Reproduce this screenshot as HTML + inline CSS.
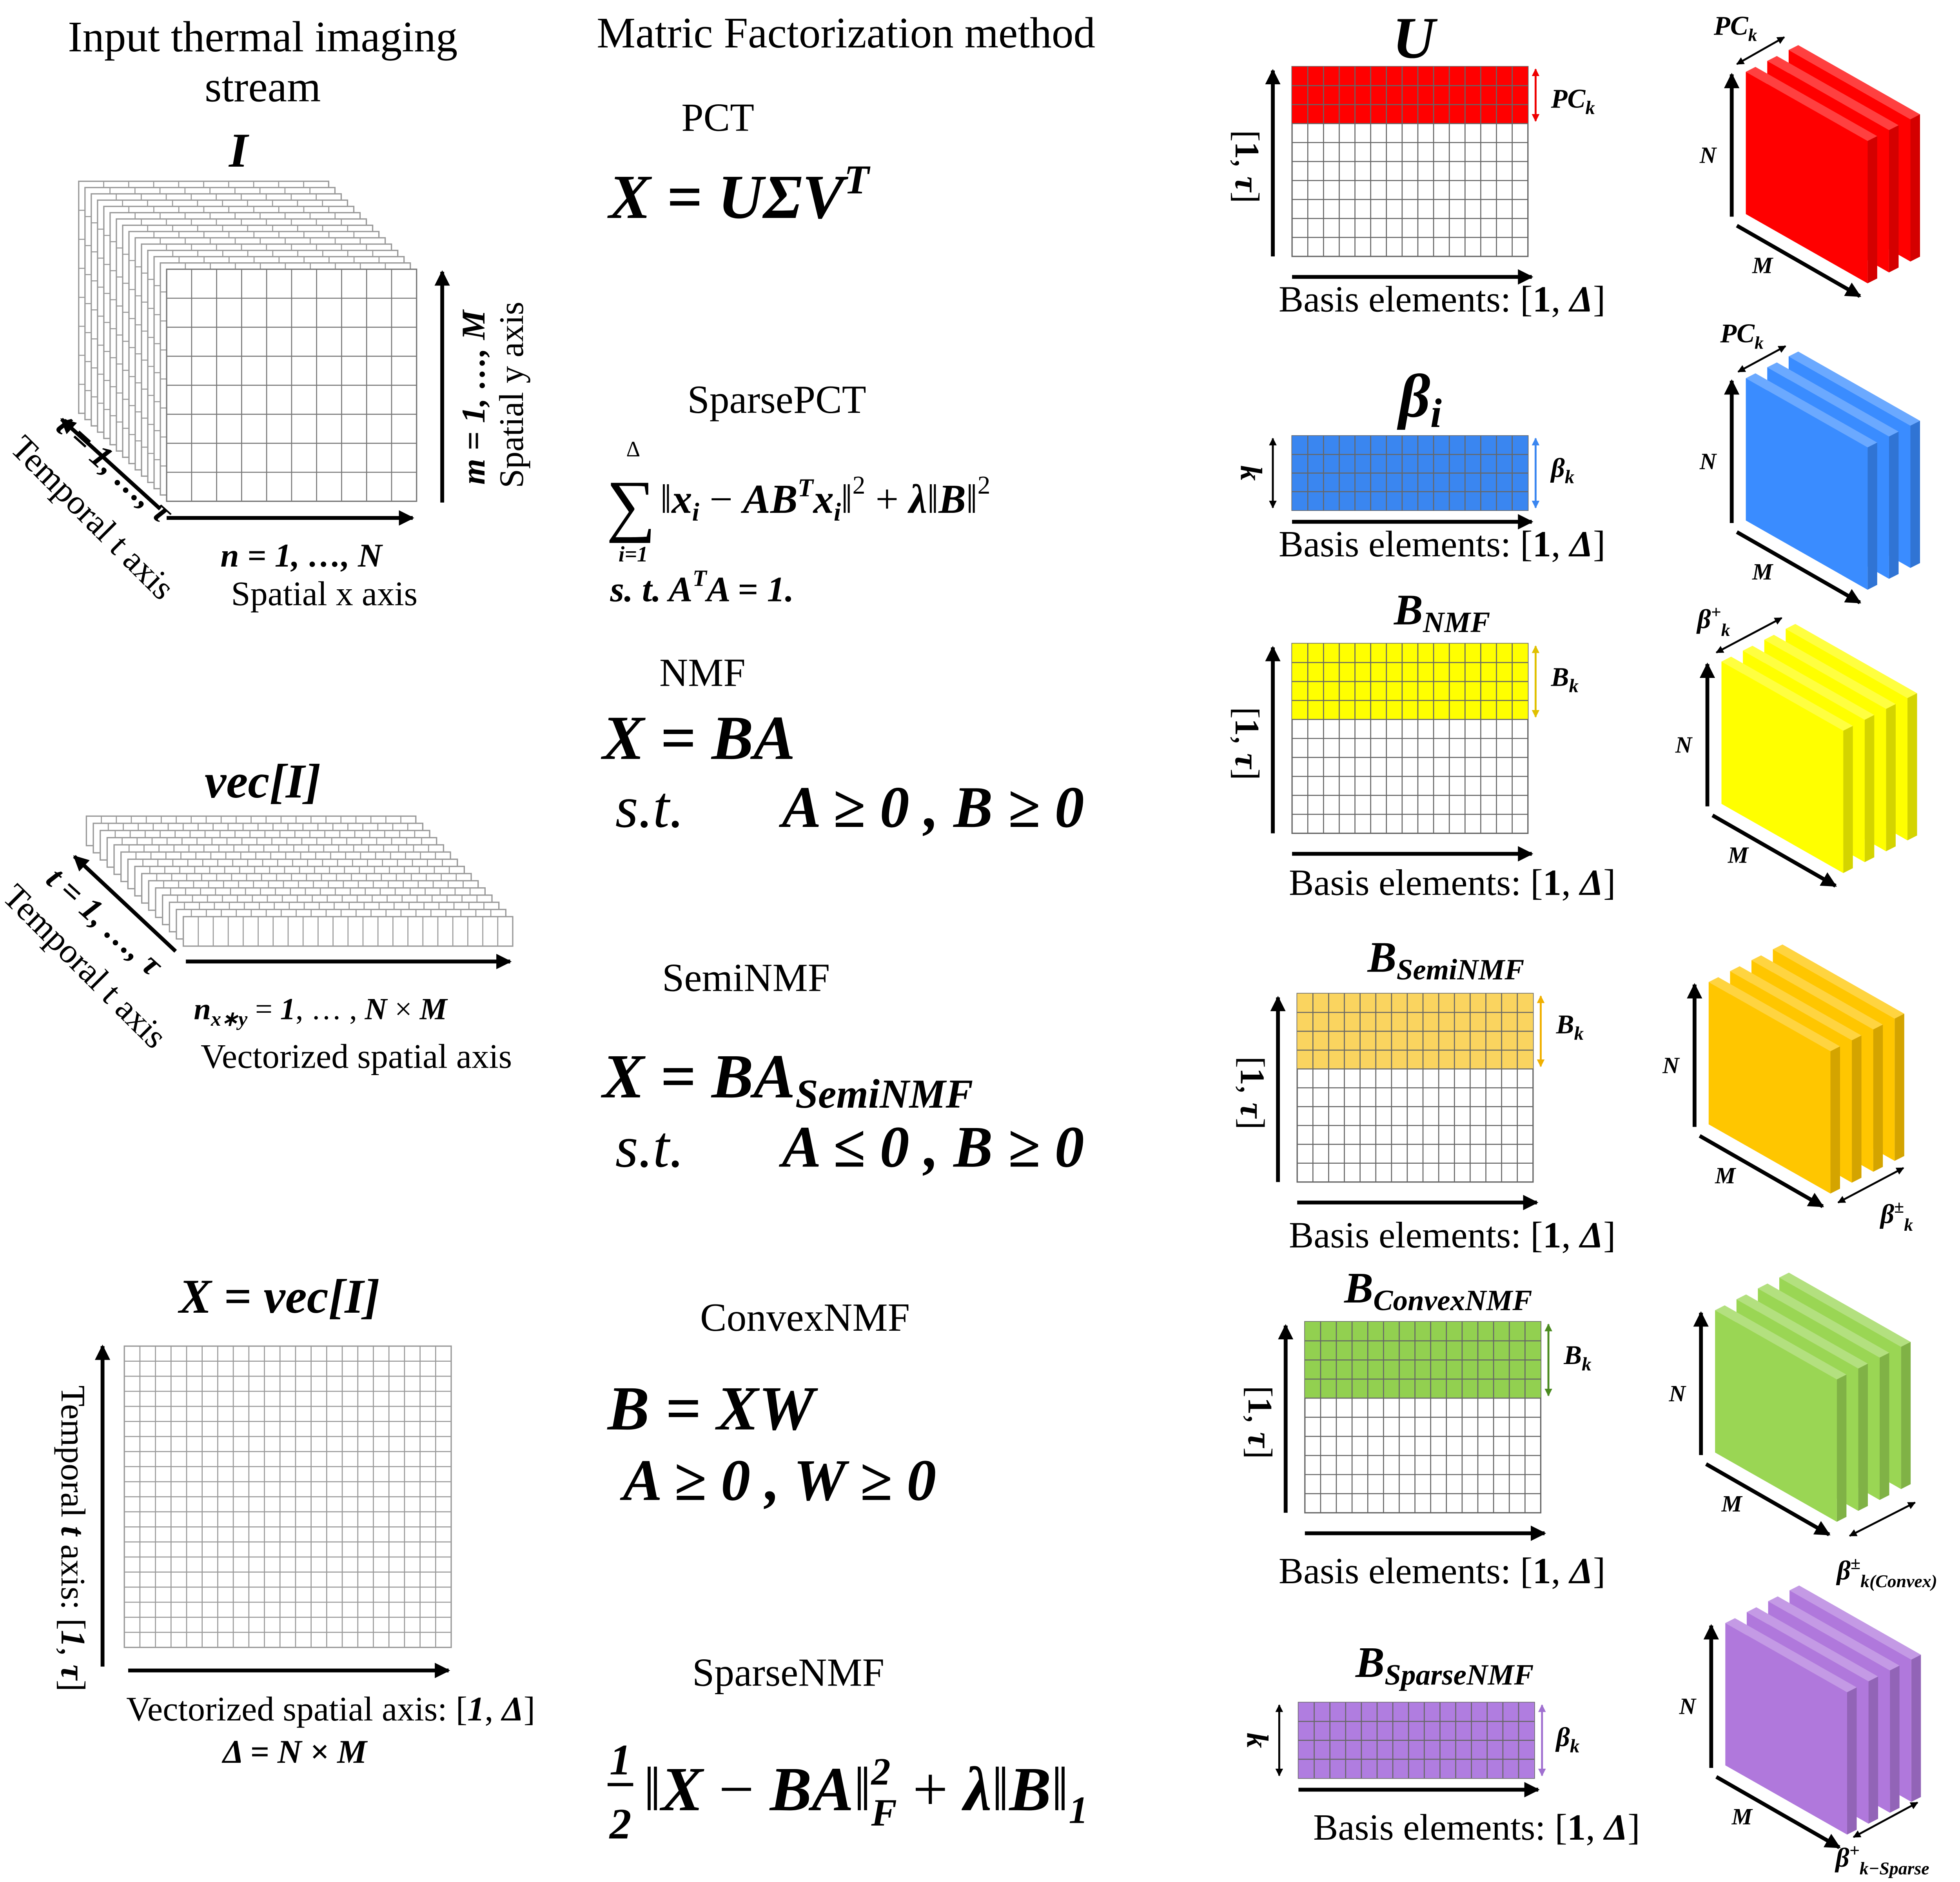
<!DOCTYPE html>
<html><head><meta charset="utf-8">
<style>
html,body{margin:0;padding:0;background:#fff;}
svg{display:block;}
text{font-family:"Liberation Serif",serif;fill:#000;}
.m{font-style:italic;font-weight:bold;}
</style></head>
<body>
<svg id="s" width="5088" height="4800" viewBox="0 0 1556 1468" preserveAspectRatio="none" xmlns="http://www.w3.org/2000/svg">
<defs>
<marker id="ah" viewBox="0 0 10 10" refX="9" refY="5" markerWidth="4" markerHeight="4" orient="auto-start-reverse"><path d="M0,0 L10,5 L0,10 z" fill="#000"/></marker>
<marker id="ahr" viewBox="0 0 10 10" refX="9" refY="5" markerWidth="4" markerHeight="4" orient="auto-start-reverse"><path d="M0,0 L10,5 L0,10 z" fill="#e00"/></marker>
<marker id="ahb" viewBox="0 0 10 10" refX="9" refY="5" markerWidth="4" markerHeight="4" orient="auto-start-reverse"><path d="M0,0 L10,5 L0,10 z" fill="#3a86f0"/></marker>
<marker id="ahy" viewBox="0 0 10 10" refX="9" refY="5" markerWidth="4" markerHeight="4" orient="auto-start-reverse"><path d="M0,0 L10,5 L0,10 z" fill="#e0c000"/></marker>
<marker id="aho" viewBox="0 0 10 10" refX="9" refY="5" markerWidth="4" markerHeight="4" orient="auto-start-reverse"><path d="M0,0 L10,5 L0,10 z" fill="#f0b000"/></marker>
<marker id="ahg" viewBox="0 0 10 10" refX="9" refY="5" markerWidth="4" markerHeight="4" orient="auto-start-reverse"><path d="M0,0 L10,5 L0,10 z" fill="#4a8a20"/></marker>
<marker id="ahp" viewBox="0 0 10 10" refX="9" refY="5" markerWidth="4" markerHeight="4" orient="auto-start-reverse"><path d="M0,0 L10,5 L0,10 z" fill="#a070d0"/></marker>
</defs>
<g id="g"></g>

<text x="205" y="40" font-size="34" text-anchor="middle">Input thermal imaging</text>
<text x="205" y="79" font-size="34" text-anchor="middle">stream</text>
<text class="m" x="186" y="130" font-size="38" text-anchor="middle">I</text>
<text class="m" font-size="26" transform="translate(378,310) rotate(-90)" text-anchor="middle">m = 1, …, M</text>
<text font-size="27" transform="translate(408,308) rotate(-90)" text-anchor="middle">Spatial y axis</text>
<text class="m" x="235" y="442" font-size="26" text-anchor="middle">n = 1, …, N</text>
<text x="253" y="472" font-size="27" text-anchor="middle">Spatial x axis</text>
<text class="m" font-size="26" transform="translate(84,372) rotate(42)" text-anchor="middle">t = 1, …, τ</text>
<text font-size="27" transform="translate(66,410) rotate(45)" text-anchor="middle">Temporal t axis</text>

<text class="m" x="205" y="622" font-size="38" text-anchor="middle">vec[I]</text>
<text class="m" font-size="26" transform="translate(76,725) rotate(42)" text-anchor="middle">t = 1, …, τ</text>
<text font-size="27" transform="translate(60,760) rotate(45)" text-anchor="middle">Temporal t axis</text>
<text x="250" y="795" font-size="24" text-anchor="middle"><tspan class="m">n<tspan font-size="16" dy="5">x∗y</tspan></tspan><tspan dy="-5"> = </tspan><tspan class="m">1</tspan>, … , <tspan class="m">N</tspan> × <tspan class="m">M</tspan></text>
<text x="278" y="833" font-size="27" text-anchor="middle">Vectorized spatial axis</text>

<text class="m" x="218" y="1024" font-size="38" text-anchor="middle">X = vec[I]</text>
<text font-size="27" transform="translate(48,1200) rotate(90)" text-anchor="middle">Temporal <tspan class="m">t</tspan> axis: [<tspan class="m">1</tspan>, <tspan class="m">τ</tspan>]</text>
<text x="258" y="1342" font-size="27" text-anchor="middle">Vectorized spatial axis: [<tspan class="m">1</tspan>, <tspan class="m">Δ</tspan>]</text>
<text class="m" x="230" y="1375" font-size="26" text-anchor="middle">Δ = N × M</text>

<text x="660" y="37" font-size="34" text-anchor="middle">Matric Factorization method</text>
<text x="560" y="102" font-size="31" text-anchor="middle">PCT</text>
<text class="m" x="475" y="170" font-size="49">X = UΣV<tspan font-size="32" dy="-19">T</tspan></text>
<text x="606" y="322" font-size="31" text-anchor="middle">SparsePCT</text>
<text x="473" y="412" font-size="54">∑</text>
<text x="494" y="356" font-size="17" text-anchor="middle">Δ</text>
<text class="m" x="494" y="438" font-size="17" text-anchor="middle">i=1</text>
<text x="515" y="400" font-size="32">‖<tspan class="m">x<tspan font-size="20" dy="6">i</tspan></tspan><tspan dy="-6"> − </tspan><tspan class="m">AB<tspan font-size="20" dy="-13">T</tspan><tspan dy="13">x</tspan><tspan font-size="20" dy="6">i</tspan></tspan><tspan dy="-6">‖</tspan><tspan font-size="20" dy="-15">2</tspan><tspan dy="15"> + </tspan><tspan class="m">λ</tspan>‖<tspan class="m">B</tspan>‖<tspan font-size="20" dy="-15">2</tspan></text>
<text class="m" x="476" y="469" font-size="28">s. t.   A<tspan font-size="18" dy="-12">T</tspan><tspan dy="12">A = 1.</tspan></text>
<text x="548" y="535" font-size="31" text-anchor="middle">NMF</text>
<text class="m" x="470" y="592" font-size="49">X = BA</text>
<text x="480" y="645" font-size="46"><tspan font-style="italic">s.t.</tspan><tspan class="m" x="610">A ≥ 0 , B  ≥ 0</tspan></text>
<text x="582" y="773" font-size="31" text-anchor="middle">SemiNMF</text>
<text class="m" x="470" y="856" font-size="49">X = BA<tspan font-size="32" dy="8">SemiNMF</tspan></text>
<text x="480" y="910" font-size="46"><tspan font-style="italic">s.t.</tspan><tspan class="m" x="610">A ≤ 0 , B  ≥ 0</tspan></text>
<text x="628" y="1038" font-size="31" text-anchor="middle">ConvexNMF</text>
<text class="m" x="474" y="1115" font-size="49">B = XW</text>
<text class="m" x="486" y="1170" font-size="46">A ≥ 0 , W  ≥ 0</text>
<text x="615" y="1315" font-size="31" text-anchor="middle">SparseNMF</text>
<text class="m" x="484" y="1384" font-size="34" text-anchor="middle">1</text>
<line x1="474" y1="1392" x2="494" y2="1392" stroke="#000" stroke-width="2.5"/>
<text class="m" x="484" y="1434" font-size="34" text-anchor="middle">2</text>
<text x="502" y="1412" font-size="49">‖<tspan class="m">X</tspan> − <tspan class="m">BA</tspan>‖<tspan class="m" font-size="30" dy="-20">2</tspan><tspan class="m" font-size="30" dx="-15" dy="32">F</tspan><tspan dy="-12"> + </tspan><tspan class="m">λ</tspan>‖<tspan class="m">B</tspan>‖<tspan class="m" font-size="30" dy="10">1</tspan></text>
</svg>
<script>
const NS="http://www.w3.org/2000/svg";
const G=document.getElementById('g');
function el(tag,attrs,parent){const e=document.createElementNS(NS,tag);for(const k in attrs)e.setAttribute(k,attrs[k]);(parent||G).appendChild(e);return e;}
function arrow(x1,y1,x2,y2,name,mk,col,both){const l=el('line',{x1,y1,x2,y2,stroke:col||'#000','stroke-width':both?1.5:3,'marker-end':'url(#'+(mk||'ah')+')'});
if(both)l.setAttribute('marker-start','url(#'+mk+')');

return l;}
function grid(x,y,w,h,cols,rows,colRows,color,name,lc){const g=el('g',{});


const L=lc||'#888';
const ch=h/rows,cw=w/cols;
el('rect',{x,y,width:w,height:h,fill:'#fff',stroke:L,'stroke-width':1},g);
if(colRows>0)el('rect',{x,y,width:w,height:ch*colRows,fill:color},g);
for(let i=1;i<cols;i++)el('line',{x1:x+i*cw,y1:y,x2:x+i*cw,y2:y+h,stroke:L,'stroke-width':0.8},g);
for(let j=1;j<rows;j++)el('line',{x1:x,y1:y+j*ch,x2:x+w,y2:y+j*ch,stroke:L,'stroke-width':0.8},g);
return g;}
function txt(x,y,s,size,name,opts){const t=el('text',Object.assign({x,y,'font-size':size},opts||{}));t.innerHTML=s;

return t;}

// Input stack
const stackFrames=14;
for(let i=stackFrames;i>=1;i--)grid(130-i*4.9,210-i*4.9,195,181,10,8,0,'',i===stackFrames?'frame-back':'frame','#999');
grid(130,210,195,181,10,8,0,'','frame-front','#777');
arrow(345,392,345,212,'y-axis-arrow');
arrow(130,404,322,404,'x-axis-arrow');
arrow(125,397,48,327,'t-axis-arrow');

// Vec stack
for(let i=14;i>=0;i--)grid(143-i*5.4,715-i*5.6,257,23,22,1,0,'',i===0?'vec-front':'vec-frame','#999');
arrow(145,750,398,750,'vec-x-arrow');
arrow(137,742,58,668,'vec-t-arrow');

// X grid
grid(97,1050,255,235,21,20,0,'','x-matrix-grid','#999');
arrow(80,1300,80,1050,'x-temporal-arrow');
arrow(100,1303,350,1303,'x-spatial-arrow');

// Right matrices
const mats=[
 {n:'u',x:1008,y:52,h:148,rows:10,cr:3,c:'#ff0000',mk:'ahr',lc:'#e00',title:'U',tx:1103,ty:45,ts:46,side:'[1, τ]',sub:'PC<tspan font-size="15" dy="5">k</tspan>',ex:1210,ey:84},
 {n:'beta',x:1008,y:340,h:58,rows:4,cr:4,c:'#3a86f0',mk:'ahb',lc:'#3a86f0',title:'β<tspan font-size="32" dy="8">i</tspan>',tx:1108,ty:325,ts:48,side:'k',sub:'β<tspan font-size="15" dy="5">k</tspan>',ex:1210,ey:372},
 {n:'nmf',x:1008,y:502,h:148,rows:10,cr:4,c:'#ffff00',mk:'ahy',lc:'#e0c000',title:'B<tspan font-size="23" dy="6">NMF</tspan>',tx:1125,ty:487,ts:34,side:'[1, τ]',sub:'B<tspan font-size="15" dy="5">k</tspan>',ex:1210,ey:535},
 {n:'seminmf',x:1012,y:775,h:147,rows:10,cr:4,c:'#fad45f',mk:'aho',lc:'#f0b000',title:'B<tspan font-size="23" dy="6">SemiNMF</tspan>',tx:1128,ty:758,ts:34,side:'[1, τ]',sub:'B<tspan font-size="15" dy="5">k</tspan>',ex:1214,ey:806},
 {n:'convexnmf',x:1018,y:1031,h:149,rows:10,cr:4,c:'#92d050',mk:'ahg',lc:'#4a8a20',title:'B<tspan font-size="23" dy="6">ConvexNMF</tspan>',tx:1122,ty:1016,ts:34,side:'[1, τ]',sub:'B<tspan font-size="15" dy="5">k</tspan>',ex:1220,ey:1064},
 {n:'sparsenmf',x:1013,y:1328,h:59,rows:4,cr:4,c:'#b07de0',mk:'ahp',lc:'#a070d0',title:'B<tspan font-size="23" dy="6">SparseNMF</tspan>',tx:1127,ty:1308,ts:34,side:'k',sub:'β<tspan font-size="15" dy="5">k</tspan>',ex:1214,ey:1362}
];
const textY=[235,426,690,965,1227,1427], textX=[1125,1125,1133,1133,1125,1152];
mats.forEach((m,i)=>{
 const w=184;
 grid(m.x,m.y,w,m.h,15,m.rows,m.cr,m.c,m.n+'-matrix','#666');
 txt(m.tx,m.ty,m.title,m.ts,m.n+'-matrix-title',{'text-anchor':'middle','font-style':'italic','font-weight':'bold'});
 const ax=m.x-15;
 if(m.side==='k'){
   arrow(ax,m.y+2,ax,m.y+m.h-2,m.n+'-k-arrow','ah','#000',true);
   txt(0,0,'k',24,m.n+'-k-label',{'font-style':'italic','font-weight':'bold','text-anchor':'middle',transform:`translate(${ax-25},${m.y+m.h/2}) rotate(90)`});
 } else {
   arrow(ax,m.y+m.h,ax,m.y+3,m.n+'-tau-arrow');
   txt(0,0,'[<tspan font-weight="bold">1</tspan>, <tspan font-weight="bold" font-style="italic">τ</tspan>]',27,m.n+'-tau-label',{'text-anchor':'middle',transform:`translate(${ax-29},${m.y+m.h/2+4}) rotate(90)`});
 }
 const by=m.y+m.h+ (m.side==='k'?9:16);
 arrow(m.x,by,m.x+w+3,by,m.n+'-basis-arrow');
 txt(textX[i],textY[i]+8,'Basis elements: [<tspan font-weight="bold">1</tspan>, <tspan font-weight="bold" font-style="italic">Δ</tspan>]',29,m.n+'-basis-label',{'text-anchor':'middle'});
 const kh=m.cr*(m.h/m.rows);
 arrow(m.x+w+6,m.y+2,m.x+w+6,m.y+kh-2,m.n+'-component-arrow',m.mk,m.lc,true);
 txt(m.ex,m.ey,m.sub,21,m.n+'-component-label',{'font-style':'italic','font-weight':'bold'});
});

// 3D blocks
function shade(hex,f){const n=parseInt(hex.slice(1),16);let r=n>>16,g=(n>>8)&255,b=n&255;
 const c=v=>Math.max(0,Math.min(255,Math.round(f>1?v+(255-v)*(f-1):v*f)));return `rgb(${c(r)},${c(g)},${c(b)})`;}
const blocks=[
 {n:'red',x:1362,y:56,k:3,c:'#ff0000',top:'PC<tspan font-size="14" dy="5">k</tspan>',tl:[1337,27],da:[1355,50,1392,29]},
 {n:'blue',x:1362,y:295,k:3,c:'#3a8cff',top:'PC<tspan font-size="14" dy="5">k</tspan>',tl:[1342,267],da:[1356,290,1393,270]},
 {n:'yellow',x:1343,y:516,k:4,c:'#ffff00',top:'β<tspan font-size="14" dy="-8">+</tspan><tspan font-size="14" dy="14">k</tspan>',tl:[1324,490],da:[1339,509,1390,482]},
 {n:'orange',x:1333,y:766,k:4,c:'#ffc600',top:'β<tspan font-size="14" dy="-8">±</tspan><tspan font-size="14" dy="14">k</tspan>',tl:[1467,954],da:[1434,938,1485,911]},
 {n:'green',x:1338,y:1022,k:4,c:'#9ad654',top:'β<tspan font-size="14" dy="-8">±</tspan><tspan font-size="14" dy="14">k(Convex)</tspan>',tl:[1433,1232],da:[1443,1198,1494,1172]},
 {n:'purple',x:1346,y:1266,k:4,c:'#b078dc',top:'β<tspan font-size="14" dy="-8">+</tspan><tspan font-size="14" dy="14">k−Sparse</tspan>',tl:[1432,1456],da:[1446,1433,1496,1406]}
];
blocks.forEach(b=>{
 const g=el('g',{});
 
 
 const w=95,sl=54,h=111,t=7.5,tdy=3.8,sx=16.7,sy=8.5;
 for(let i=b.k-1;i>=0;i--){
  const x=b.x+i*sx,y=b.y-i*sy;
  el('polygon',{points:`${x},${y} ${x+t},${y-tdy} ${x+w+t},${y+sl-tdy} ${x+w},${y+sl}`,fill:shade(b.c,1.25)},g);
  el('polygon',{points:`${x+w},${y+sl} ${x+w+t},${y+sl-tdy} ${x+w+t},${y+sl-tdy+h} ${x+w},${y+sl+h}`,fill:shade(b.c,0.83)},g);
  el('polygon',{points:`${x},${y} ${x+w},${y+sl} ${x+w},${y+sl+h} ${x},${y+h}`,fill:b.c},g);
 }
 const ax=b.x-11;
 arrow(ax,b.y+h+2,ax,b.y+2,b.n+'-n-arrow');
 arrow(b.x-7,b.y+h+9,b.x+w-6,b.y+h+sl+10,b.n+'-m-arrow');
 txt(b.x-36,b.y+71,'N',18,b.n+'-n-label',{'font-style':'italic','font-weight':'bold'});
 txt(b.x+5,b.y+157,'M',18,b.n+'-m-label',{'font-style':'italic','font-weight':'bold'});
 arrow(b.da[0],b.da[1],b.da[2],b.da[3],b.n+'-depth-arrow','ah','#000',true);
 txt(b.tl[0],b.tl[1],b.top,21,b.n+'-depth-label',{'font-style':'italic','font-weight':'bold'});
});
</script>
</body></html>
